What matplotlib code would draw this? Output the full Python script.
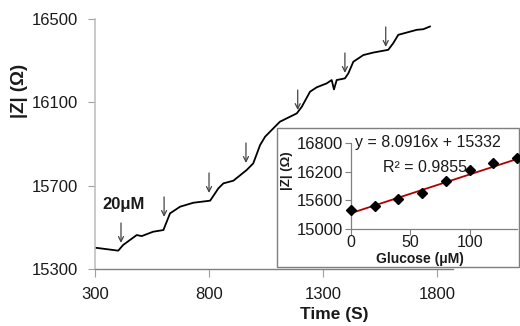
import matplotlib
matplotlib.use("Agg")
import matplotlib.pyplot as plt
import matplotlib.patches as patches

plt.rcParams['font.family'] = ['Liberation Sans', 'DejaVu Sans']

# Main trace data (time in s, |Z| in ohm)
time_s = [303, 402, 423, 483, 505, 555, 600, 629, 673, 731, 805, 841, 863, 907,
          965, 994, 1024, 1046, 1082, 1111, 1185, 1207, 1243, 1272, 1316, 1338,
          1348, 1360, 1396, 1411, 1433, 1477, 1521, 1586, 1608, 1630, 1667,
          1711, 1740, 1769]
impedance = [15402, 15388, 15415, 15463, 15458, 15479, 15487, 15567, 15599, 15618,
             15628, 15687, 15711, 15724, 15775, 15807, 15895, 15935, 15975, 16007,
             16047, 16079, 16151, 16172, 16191, 16207, 16162, 16207, 16215, 16239,
             16295, 16327, 16339, 16352, 16384, 16424, 16435, 16448, 16451, 16464]

# Glucose addition arrows
arrow_time = [414, 603, 800, 962, 1189, 1396, 1575]
arrow_tip = [15425, 15550, 15665, 15809, 16063, 16241, 16366]
arrow_len = 96

# Inset calibration data
glucose = [0, 20, 40, 60, 80, 100, 120, 140]
inset_z = [15405, 15488, 15628, 15753, 16012, 16228, 16381, 16493]
slope = 8.0916
intercept = 15332
r2 = 0.9855

main_xticks = [300, 800, 1300, 1800]
main_yticks = [15300, 15700, 16100, 16500]
inset_xticks = [0, 50, 100]
inset_yticks = [15000, 15600, 16200, 16800]

W, H = 520, 326
fig = plt.figure(figsize=(W / 100, H / 100), dpi=100)

def fx(px):
    return px / W

def fy(py):
    return 1 - py / H

tick_col = '#1a1a1a'

# Main axes
ax = fig.add_axes([fx(95), fy(269), fx(453) - fx(95), fy(19) - fy(269)])
ax.plot(time_s, impedance, color='black', lw=1.3)
ax.set_xlim(300, 1870)
ax.set_ylim(15300, 16500)
ax.set_xticks(main_xticks)
ax.set_yticks(main_yticks)
for s in ['top', 'right']:
    ax.spines[s].set_visible(False)
ax.spines['left'].set_color('#c0c0c0')
ax.spines['left'].set_linewidth(1.2)
ax.spines['bottom'].set_color('#808080')
ax.spines['bottom'].set_linewidth(1.0)
ax.tick_params(axis='y', direction='out', length=5, width=0.8, color='#a0a0a0',
               labelsize=12, pad=7, labelcolor=tick_col)
ax.tick_params(axis='x', direction='out', length=6, width=0.8, color='#a0a0a0',
               labelsize=12, pad=7, labelcolor=tick_col)

for t, z in zip(arrow_time, arrow_tip):
    ax.annotate('', xy=(t, z), xytext=(t, z + arrow_len),
                arrowprops=dict(arrowstyle='->', color='#444444', lw=0.9,
                                shrinkA=0, shrinkB=0, mutation_scale=9))

ax.text(427, 15612, '20\u03bcM', fontsize=12, fontweight='bold',
        ha='center', va='center', color='#1a1a1a')

fig.text(fx(334), fy(314), 'Time (S)', fontsize=12.5, fontweight='bold',
         ha='center', va='center', color='#1a1a1a')
fig.text(fx(20), fy(91), '|Z| (\u03a9)', fontsize=13.5, fontweight='bold',
         ha='center', va='center', rotation=90, color='#1a1a1a')

# Inset frame
frame = patches.Rectangle((fx(277), fy(267)), fx(519) - fx(277), fy(128) - fy(267),
                          transform=fig.transFigure, facecolor='white',
                          edgecolor='#7f7f7f', lw=1.0, zorder=1)
fig.add_artist(frame)

# Inset axes
ins = fig.add_axes([fx(351), fy(229), fx(517) - fx(351), fy(143) - fy(229)])
ins.set_zorder(2)
ins.patch.set_alpha(0)
fit_x = [glucose[0], glucose[-1]]
fit_y = [intercept + slope * g for g in fit_x]
ins.plot(fit_x, fit_y, color='#b00000', lw=1.3, zorder=2)
ins.plot(glucose, inset_z, linestyle='none', marker='D', markersize=5,
         color='black', zorder=3, clip_on=False)
ins.set_xlim(0, 140)
ins.set_ylim(15000, 16800)
ins.set_xticks(inset_xticks)
ins.set_yticks(inset_yticks)
for s in ['top', 'right']:
    ins.spines[s].set_visible(False)
for s in ['left', 'bottom']:
    ins.spines[s].set_color('#808080')
    ins.spines[s].set_linewidth(0.9)
ins.tick_params(axis='y', direction='out', length=4, width=0.8, color='#808080',
                labelsize=12, pad=2, labelcolor=tick_col)
ins.tick_params(axis='x', direction='out', length=4, width=0.8, color='#808080',
                labelsize=11.5, pad=0.5, labelcolor=tick_col)

fig.text(fx(355), fy(143), 'y = %.4fx + %d' % (slope, intercept), fontsize=11.5,
         ha='left', va='center', color='#1a1a1a', zorder=4)
fig.text(fx(383), fy(168), 'R\u00b2 = %.4f' % r2, fontsize=11.5,
         ha='left', va='center', color='#1a1a1a', zorder=4)
fig.text(fx(420), fy(258.5), 'Glucose (\u03bcM)', fontsize=10, fontweight='bold',
         ha='center', va='center', color='#1a1a1a', zorder=4)
fig.text(fx(287), fy(171), '|Z| (\u03a9)', fontsize=9.5, fontweight='bold',
         ha='center', va='center', rotation=90, color='#1a1a1a', zorder=4)

fig.savefig('out.png', dpi=100)
